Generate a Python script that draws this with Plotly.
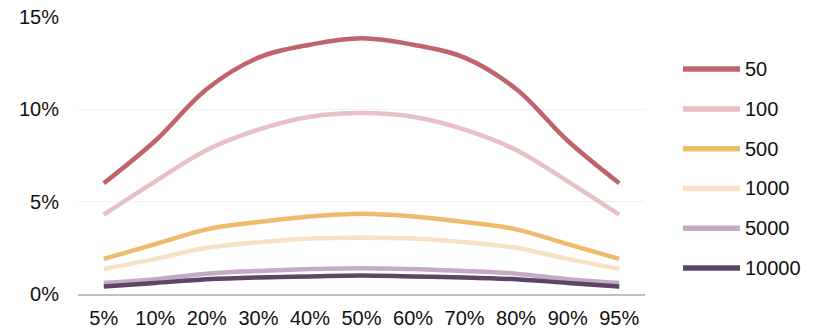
import plotly.graph_objects as go

# x categories (percentiles)
categories = ["5%", "10%", "20%", "30%", "40%", "50%", "60%", "70%", "80%", "90%", "95%"]

# series values in percent
s50 = [6.0, 8.3, 11.1, 12.8, 13.5, 13.85, 13.5, 12.8, 11.1, 8.3, 6.0]
s100 = [4.3, 6.1, 7.8, 8.9, 9.6, 9.8, 9.6, 8.9, 7.8, 6.1, 4.3]
s500 = [1.9, 2.7, 3.5, 3.9, 4.2, 4.35, 4.2, 3.9, 3.5, 2.7, 1.9]
s1000 = [1.35, 1.9, 2.5, 2.8, 3.0, 3.05, 3.0, 2.8, 2.5, 1.9, 1.35]
s5000 = [0.6, 0.8, 1.1, 1.25, 1.35, 1.4, 1.35, 1.25, 1.1, 0.8, 0.6]
s10000 = [0.4, 0.6, 0.8, 0.9, 0.95, 1.0, 0.95, 0.9, 0.8, 0.6, 0.4]

series_names = ["50", "100", "500", "1000", "5000", "10000"]
series_values = [s50, s100, s500, s1000, s5000, s10000]
colors = ["#C0636D", "#E8C1C6", "#EDBB6B", "#F7E2C6", "#C4AAC7", "#5E4466"]

fig = go.Figure()

for i, (name, vals) in enumerate(zip(series_names, series_values)):
    fig.add_trace(
        go.Scatter(
            x=categories,
            y=vals,
            name=name,
            mode="lines",
            line=dict(color=colors[i], width=4.5, shape="spline", smoothing=1),
            showlegend=False,
        )
    )

# legend drawn by hand on the right so the swatches are as long as in the original
legend_top = 0.812
legend_step = 0.1437
for i, name in enumerate(series_names):
    y = legend_top - i * legend_step
    fig.add_shape(
        type="line", xref="paper", yref="paper",
        x0=1.067, x1=1.1675, y0=y, y1=y,
        line=dict(color=colors[i], width=5.5),
    )
    fig.add_annotation(
        text=name, xref="paper", yref="paper",
        x=1.172, y=y, xanchor="left", yanchor="middle",
        showarrow=False, font=dict(size=20, color="#111111"),
    )

fig.update_layout(
    width=819,
    height=329,
    margin=dict(l=78, r=174, t=17, b=35),
    plot_bgcolor="white",
    paper_bgcolor="white",
    font=dict(family="Liberation Sans, Arial, sans-serif", size=20, color="#111111"),
    showlegend=False,
)

fig.update_yaxes(
    range=[0, 15],
    tickvals=[0, 5, 10, 15],
    ticktext=["0%", "5%", "10%", "15%"],
    showgrid=True,
    gridcolor="#F0F0F0",
    gridwidth=1,
    zeroline=False,
    showline=False,
    ticklabelstandoff=18,
    ticklabeloverflow="allow",
    automargin=False,
)

fig.update_xaxes(
    range=[-0.5, len(categories) - 0.5],
    showgrid=False,
    showline=True,
    linecolor="#BFBFBF",
    linewidth=1.5,
    ticks="",
    ticklabelstandoff=5,
    ticklabeloverflow="allow",
    automargin=False,
)

# drop the default 8px body margin so the figure fills the window exactly
fig.write_html(
    "out.html",
    config={"displayModeBar": False},
    post_script="document.body.style.margin='0';",
)
